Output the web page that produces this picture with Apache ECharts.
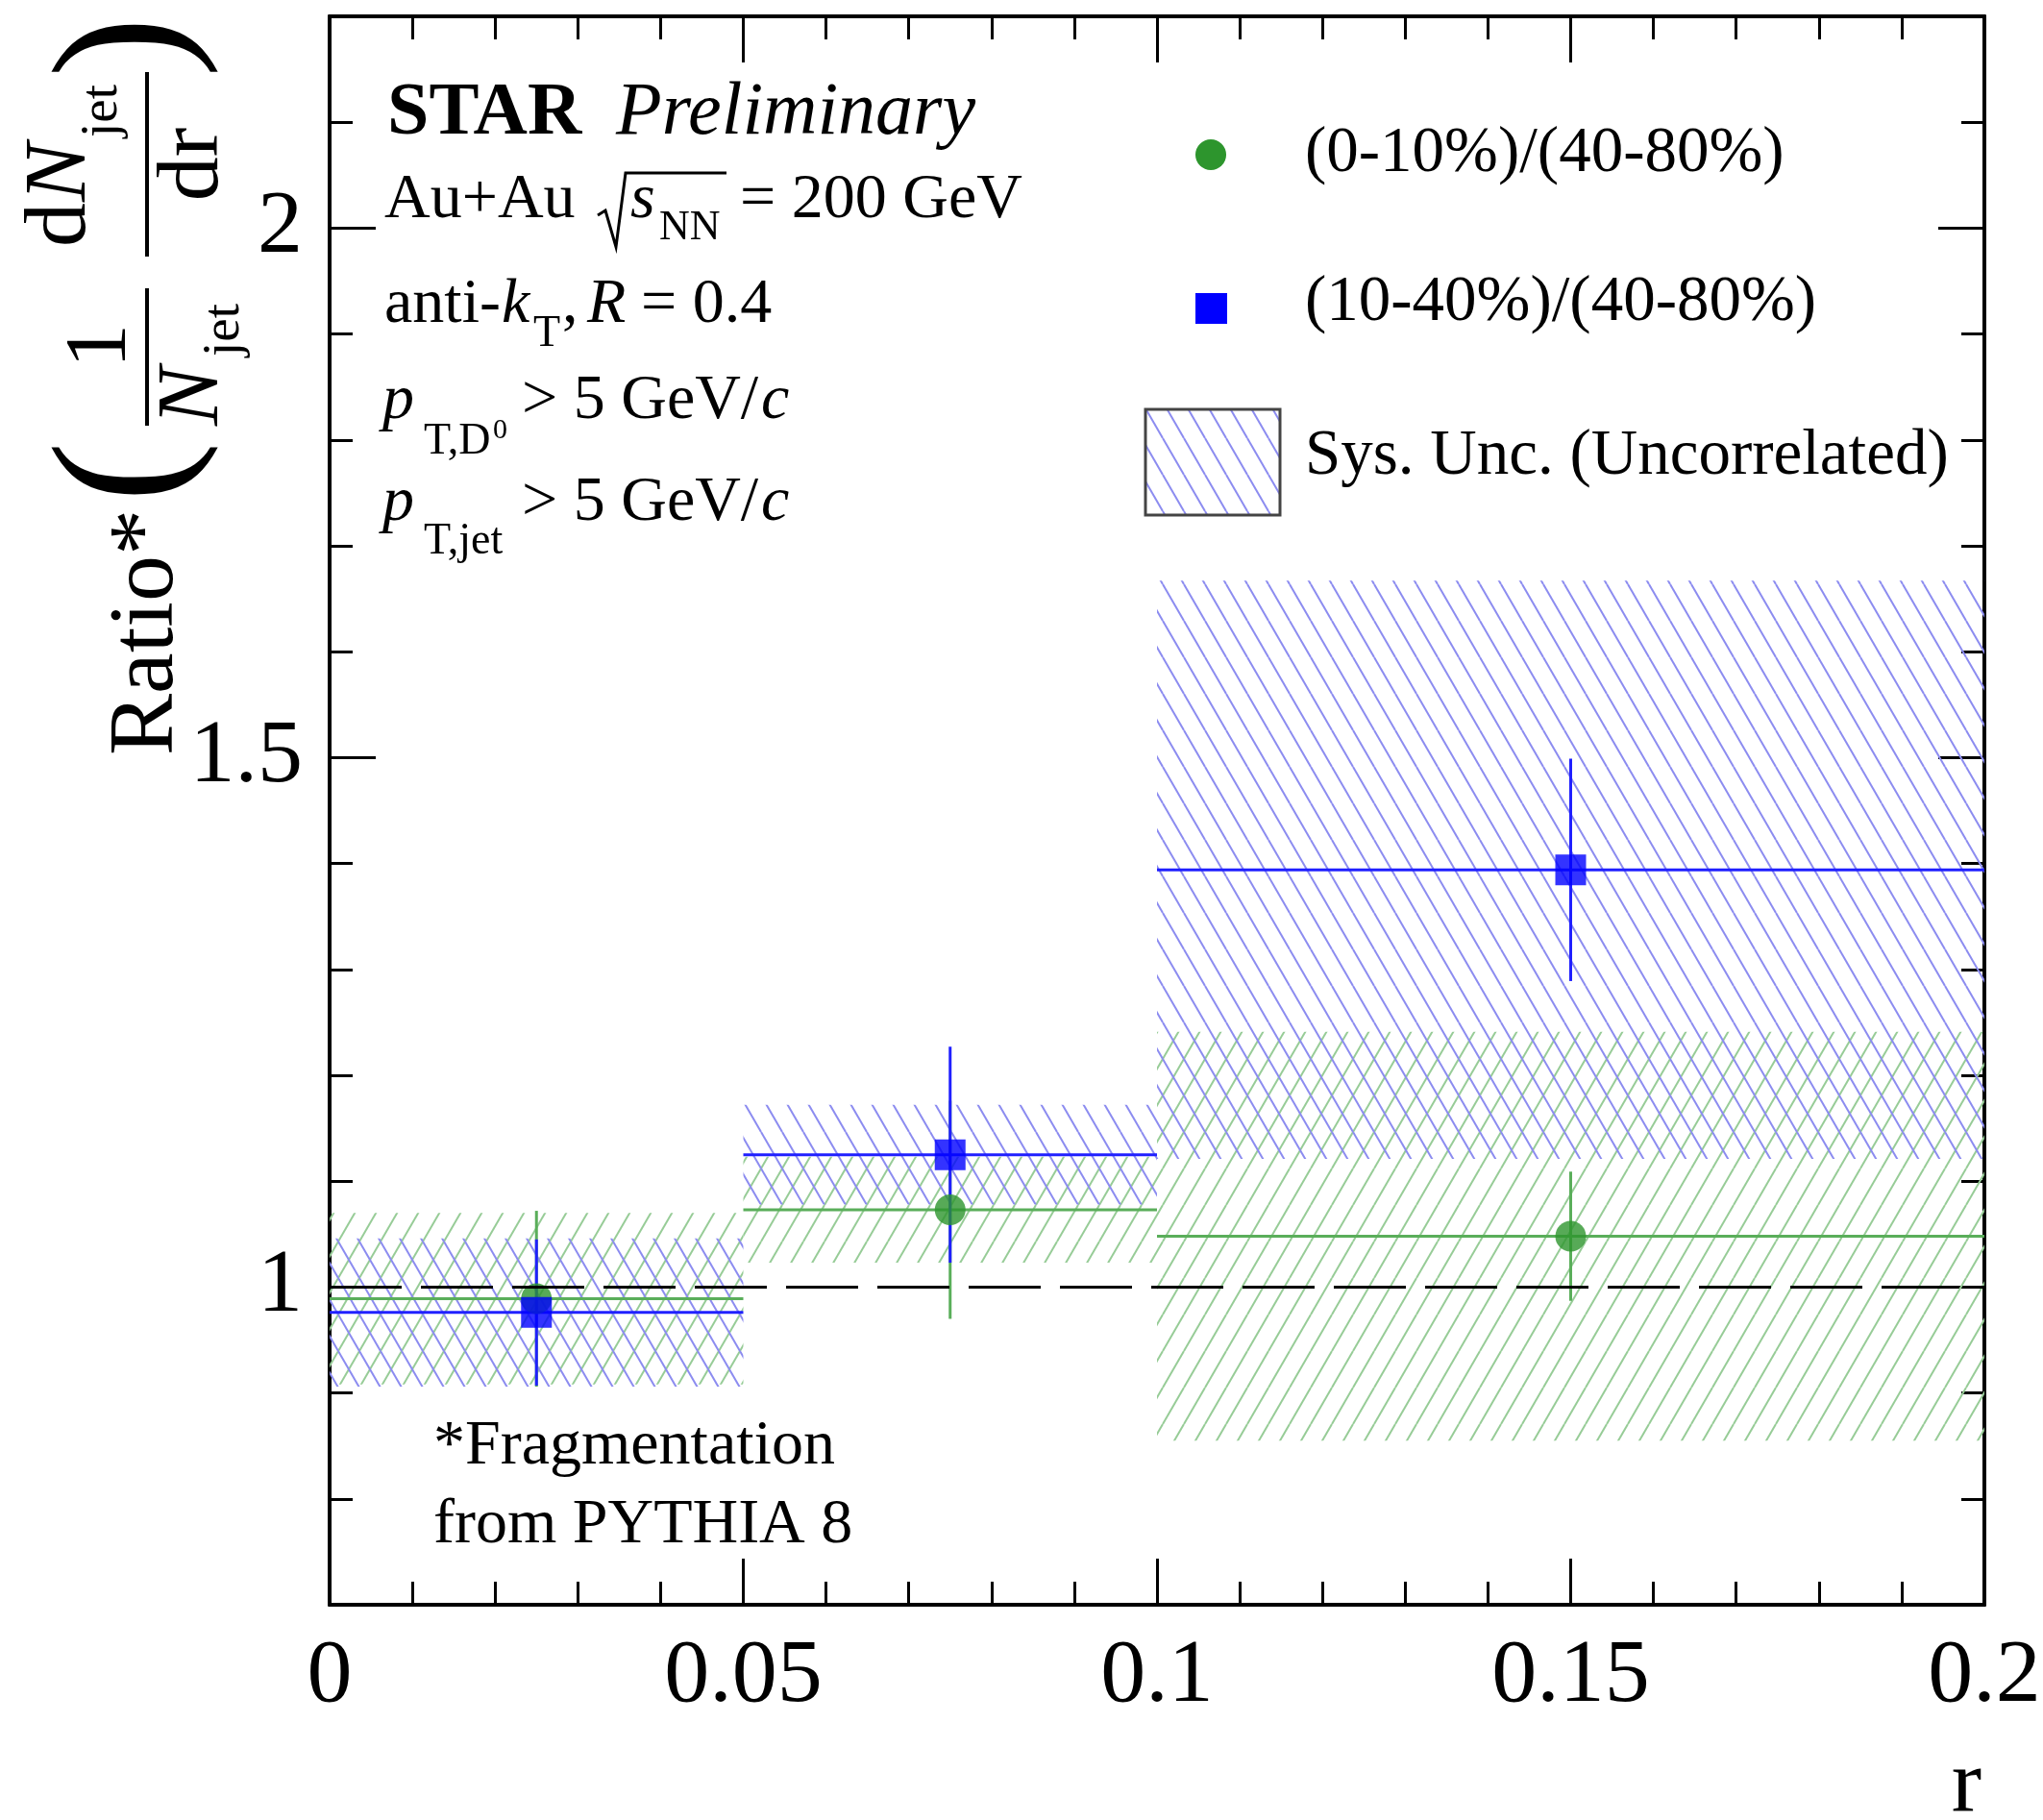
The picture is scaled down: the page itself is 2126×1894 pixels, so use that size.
<!DOCTYPE html>
<html>
<head>
<meta charset="utf-8">
<script src="https://cdn.jsdelivr.net/npm/echarts@6/dist/echarts.min.js"></script>
<style>
  html, body { margin: 0; padding: 0; background: #fff; }
  #chart { width: 2126px; height: 1894px; }
</style>
</head>
<body>
<div id="chart"></div>
<script>
// r bins
var binLow = [0, 0.05, 0.1];
var binHigh = [0.05, 0.1, 0.2];
var rCenter = [0.025, 0.075, 0.15];

// (0-10%)/(40-80%)
var centralVal = [0.989, 1.073, 1.048];
var centralStat = [0.083, 0.103, 0.061];
var centralSys = [0.081, 0.050, 0.193];

// (10-40%)/(40-80%)
var midVal = [0.976, 1.125, 1.394];
var midStat = [0.069, 0.102, 0.105];
var midSys = [0.070, 0.047, 0.273];

var refLevel = 1;
var yLabelValues = [1, 1.5, 2];

var SERIF = '"Liberation Serif", "Times New Roman", serif';
var GREEN = '#2d952d';
var GREEN_LINE = '#5aae5a';
var BLUE = '#0000ff';
var BLUE_LINE = '#2020ff';

// hatch tiles, "\" for blue and "/" for green
function makeHatch(color, back) {
    var w = 22, h = 38;
    var c = document.createElement('canvas');
    c.width = w;
    c.height = h;
    var ctx = c.getContext('2d');
    ctx.strokeStyle = color;
    ctx.lineWidth = 2;
    for (var k = -1; k <= 1; k++) {
        ctx.beginPath();
        if (back) {
            ctx.moveTo(k * w, 0);
            ctx.lineTo(k * w + w, h);
        } else {
            ctx.moveTo(k * w, h);
            ctx.lineTo(k * w + w, 0);
        }
        ctx.stroke();
    }
    return { image: c, repeat: 'repeat' };
}
var blueHatch = makeHatch('#8c8cf0', true);
var greenHatch = makeHatch('#97cc97', false);

function sysBoxes(vals, sys) {
    return vals.map(function (v, i) {
        return [binLow[i], binHigh[i], v - sys[i], v + sys[i]];
    });
}

function errData(vals, stat) {
    return vals.map(function (v, i) {
        return [rCenter[i], v, binLow[i], binHigh[i], v - stat[i], v + stat[i]];
    });
}

function points(vals) {
    return vals.map(function (v, i) { return [rCenter[i], v]; });
}

function renderBox(pattern) {
    return function (params, api) {
        var p1 = api.coord([api.value(0), api.value(3)]);
        var p2 = api.coord([api.value(1), api.value(2)]);
        return {
            type: 'rect',
            shape: { x: p1[0], y: p1[1], width: p2[0] - p1[0], height: p2[1] - p1[1] },
            style: { fill: pattern, stroke: null }
        };
    };
}

function renderErr(color) {
    return function (params, api) {
        var c = api.coord([api.value(0), api.value(1)]);
        var l = api.coord([api.value(2), api.value(1)]);
        var r = api.coord([api.value(3), api.value(1)]);
        var lo = api.coord([api.value(0), api.value(4)]);
        var hi = api.coord([api.value(0), api.value(5)]);
        return {
            type: 'group',
            children: [
                { type: 'line', shape: { x1: l[0], y1: c[1], x2: r[0], y2: c[1] }, style: { stroke: color, lineWidth: 3 } },
                { type: 'line', shape: { x1: c[0], y1: lo[1], x2: c[0], y2: hi[1] }, style: { stroke: color, lineWidth: 3 } }
            ]
        };
    };
}

// text placed by its baseline
function txt(s, x, base, size, style, align) {
    return {
        type: 'text', x: x, y: base - 0.34 * size, silent: true,
        style: {
            text: s, font: (style || '') + ' ' + size + 'px ' + SERIF, fill: '#000',
            align: align || 'left', verticalAlign: 'middle'
        }
    };
}

function bar(x1, x2, y) {
    return { type: 'line', silent: true, shape: { x1: x1, y1: y, x2: x2, y2: y }, style: { stroke: '#000', lineWidth: 4 } };
}

// y title, laid out horizontally then turned
var yTitle = {
    type: 'group', x: 153, y: 786, rotation: Math.PI / 2,
    children: [
        txt('Ratio*', 0, 33, 96),
        txt('(', 295, 48, 190, '', 'center'),
        txt('1', 426, -16, 92, '', 'center'),
        bar(343, 486, 0),
        txt('N', 343, 80, 92, 'italic'),
        txt('jet', 415, 99, 55),
        txt('d', 529, -58, 92),
        txt('N', 576, -58, 92, 'italic'),
        txt('jet', 643, -28, 55),
        bar(519, 711, 0),
        txt('dr', 615, 80, 92, '', 'center'),
        txt(')', 737, 48, 190, '', 'center')
    ]
};

var labels = [
    txt('STAR', 403, 145, 78, 'bold'),
    txt('Preliminary', 641, 145, 78, 'italic'),
    txt('Au+Au', 400, 231, 66),
    { type: 'polyline', silent: true, shape: { points: [[622, 224], [630, 219], [641, 257], [651, 180], [756, 180]] }, style: { stroke: '#000', lineWidth: 3, fill: null } },
    txt('s', 656, 231, 66, 'italic'),
    txt('NN', 686, 252, 44),
    txt('= 200 GeV', 770, 231, 66),
    txt('anti-', 400, 340, 66),
    txt('k', 522, 340, 66, 'italic'),
    txt('T', 555, 364, 46),
    txt(',', 585, 340, 66),
    txt('R', 611, 340, 66, 'italic'),
    txt('= 0.4', 667, 340, 66),
    txt('p', 398, 440, 66, 'italic'),
    txt('T,D', 441, 476, 46),
    txt('0', 513, 458, 30),
    txt('> 5 GeV/', 543, 440, 66),
    txt('c', 792, 440, 66, 'italic'),
    txt('p', 398, 546, 66, 'italic'),
    txt('T,jet', 441, 580, 46),
    txt('> 5 GeV/', 543, 546, 66),
    txt('c', 792, 546, 66, 'italic'),
    // legend
    { type: 'circle', silent: true, shape: { cx: 1260, cy: 161, r: 16 }, style: { fill: GREEN } },
    txt('(0-10%)/(40-80%)', 1358, 183, 67),
    { type: 'rect', silent: true, shape: { x: 1244, y: 305, width: 33, height: 32 }, style: { fill: BLUE } },
    txt('(10-40%)/(40-80%)', 1358, 338, 67),
    { type: 'rect', silent: true, shape: { x: 1192, y: 426, width: 140, height: 110 }, style: { fill: blueHatch, stroke: '#444', lineWidth: 3 } },
    txt('Sys. Unc. (Uncorrelated)', 1358, 498, 67),
    // footnote
    txt('*Fragmentation', 451, 1528, 66),
    txt('from PYTHIA 8', 451, 1610, 66),
    // x title
    txt('r', 2062, 1891, 94, '', 'right'),
    yTitle
];

function xAxisDef(pos, showLabel) {
    return {
        type: 'value', position: pos, min: 0, max: 0.2, interval: 0.05,
        axisLine: { show: true, onZero: false, lineStyle: { color: '#000', width: 4 } },
        axisTick: { show: true, inside: true, length: 48, lineStyle: { color: '#000', width: 3 } },
        minorTick: { show: true, splitNumber: 5, length: 24, lineStyle: { color: '#000', width: 3 } },
        axisLabel: { show: showLabel, color: '#000', fontFamily: SERIF, fontSize: 94, margin: 28 },
        splitLine: { show: false },
        minorSplitLine: { show: false }
    };
}

function yAxisDef(pos, major, showLabel) {
    var ax = {
        type: 'value', position: pos, min: 0.7, max: 2.2, interval: 0.1,
        axisLine: { show: true, onZero: false, lineStyle: { color: '#000', width: 4 } },
        axisTick: { show: true, inside: true, length: 24, lineStyle: { color: '#000', width: 3 } },
        axisLabel: { show: false },
        splitLine: { show: false }
    };
    if (major) {
        ax.axisTick.length = 48;
        ax.axisTick.customValues = yLabelValues;
    }
    if (showLabel) {
        ax.axisLabel = { show: true, customValues: yLabelValues, color: '#000', fontFamily: SERIF, fontSize: 94, margin: 28 };
    }
    return ax;
}

var chart = echarts.init(document.getElementById('chart'), null, { renderer: 'canvas' });

var option = {
    backgroundColor: '#fff',
    animation: false,
    grid: { left: 343, right: 61, top: 17, bottom: 224, containLabel: false, outerBoundsMode: 'none' },
    xAxis: [xAxisDef('bottom', true), xAxisDef('top', false)],
    yAxis: [
        yAxisDef('left', false, true),
        yAxisDef('left', true, false),
        yAxisDef('right', false, false),
        yAxisDef('right', true, false)
    ],
    series: [
        {
            type: 'custom', name: 'sysCentral', silent: true,
            data: sysBoxes(centralVal, centralSys),
            encode: { x: [0, 1], y: [2, 3] },
            renderItem: renderBox(greenHatch)
        },
        {
            type: 'custom', name: 'sysMid', silent: true,
            data: sysBoxes(midVal, midSys),
            encode: { x: [0, 1], y: [2, 3] },
            renderItem: renderBox(blueHatch)
        },
        {
            type: 'line', name: 'unity', silent: true, symbol: 'none',
            data: [[binLow[0], refLevel], [binHigh[binHigh.length - 1], refLevel]],
            lineStyle: { color: '#000', width: 3, type: [75, 20] }
        },
        {
            type: 'custom', name: 'errCentral', silent: true,
            data: errData(centralVal, centralStat),
            encode: { x: [0, 2, 3], y: [1, 4, 5] },
            renderItem: renderErr(GREEN_LINE)
        },
        {
            type: 'scatter', name: '(0-10%)/(40-80%)', silent: true,
            symbol: 'circle', symbolSize: 32,
            itemStyle: { color: GREEN },
            data: points(centralVal)
        },
        {
            type: 'custom', name: 'errMid', silent: true,
            data: errData(midVal, midStat),
            encode: { x: [0, 2, 3], y: [1, 4, 5] },
            renderItem: renderErr(BLUE_LINE)
        },
        {
            type: 'scatter', name: '(10-40%)/(40-80%)', silent: true,
            symbol: 'rect', symbolSize: 32,
            itemStyle: { color: BLUE },
            data: points(midVal)
        }
    ],
    graphic: labels
};

chart.setOption(option);
</script>
</body>
</html>
